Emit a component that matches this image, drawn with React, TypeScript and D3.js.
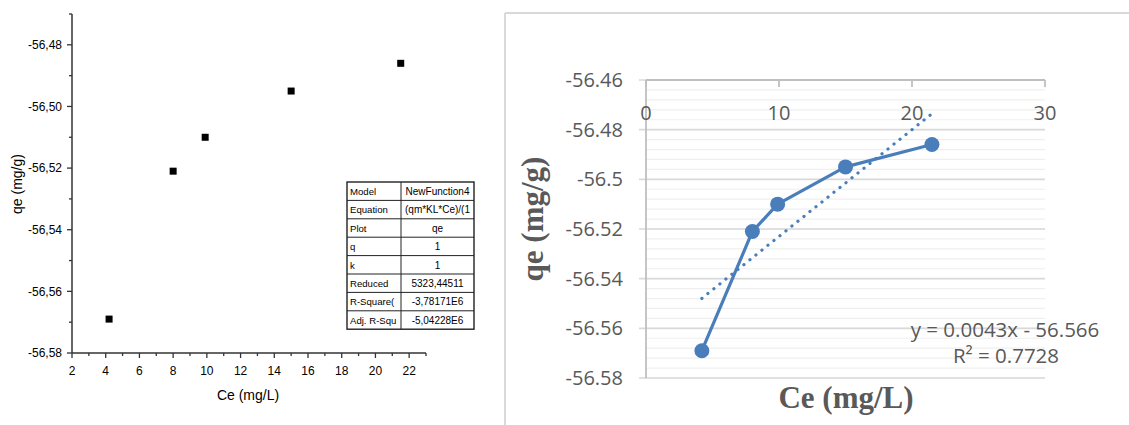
import React from "react";
import * as d3 from "d3";

const ce = [4.2, 8.0, 9.9, 15.0, 21.5];
const qe = [-56.569, -56.521, -56.51, -56.495, -56.486];

const leftXMajor = [2, 4, 6, 8, 10, 12, 14, 16, 18, 20, 22];
const leftXMinor = [3, 5, 7, 9, 11, 13, 15, 17, 19, 21, 23];
const leftYMajor = [-56.58, -56.56, -56.54, -56.52, -56.5, -56.48];
const leftYMinor = [-56.57, -56.55, -56.53, -56.51, -56.49, -56.47];

const rightXTicks = [0, 10, 20, 30];
const rightYMajor = [-56.58, -56.56, -56.54, -56.52, -56.5, -56.48, -56.46];
const rightYMinorStep = 0.004;

const trendSlope = 0.0043;
const trendIntercept = -56.566;
const trendLabel = "y = 0.0043x - 56.566";
const r2Label = "R² = 0.7728";

const tableKeys = ["Model", "Equation", "Plot", "q", "k", "Reduced", "R-Square(", "Adj. R-Squ"];
const tableVals = ["NewFunction4", "(qm*KL*Ce)/(1", "qe", "1", "1", "5323,44511", "-3,78171E6", "-5,04228E6"];

const BLUE = "#4A7EBB";
const GRAY = "#595959";

export default function App() {
  // Left (Origin-like) chart
  const lx = d3.scaleLinear().domain([2, 23]).range([72, 426]);
  const ly = d3.scaleLinear().domain([-56.58, -56.47]).range([353, 14]);
  const commaFmt = (v: number) => d3.format(".2f")(v).replace(".", ",").replace("−", "-");

  // Right (Excel-like) chart
  const rx = d3.scaleLinear().domain([0, 30]).range([646, 1045]);
  const ry = d3.scaleLinear().domain([-56.58, -56.46]).range([378, 80]);
  const minorY: number[] = [];
  for (let i = 0; i <= 30; i++) {
    minorY.push(-56.58 + i * rightYMinorStep);
  }
  const lineGen = d3
    .line<number>()
    .x((_, i) => rx(ce[i]))
    .y((d) => ry(d));
  const xMin = d3.min(ce) as number;
  const xMax = d3.max(ce) as number;

  const tX = 347, tY = 182, tW = 127, rowH = 18.4, colX = 401;
  const tH = rowH * tableKeys.length;

  return (
    <div style={{ position: "absolute", left: 0, top: 0 }}>
      <svg width={1129} height={425} style={{ display: "block", background: "#fff" }}>
        <defs>
          <clipPath id="tclip">
            <rect x={colX + 1} y={tY} width={tX + tW - colX - 2} height={tH} />
          </clipPath>
        </defs>
        {/* ===== Left chart ===== */}
        <g fontFamily="'Liberation Sans', Arial, sans-serif" fill="#000">
          <line x1={lx(2)} x2={lx(2)} y1={ly(-56.47)} y2={ly(-56.58)} stroke="#333" strokeWidth={1.5} />
          <line x1={lx(2)} x2={lx(23)} y1={ly(-56.58)} y2={ly(-56.58)} stroke="#333" strokeWidth={1.5} />
          {leftYMajor.map((v) => (
            <g key={"ly" + v}>
              <line x1={lx(2) - 5} x2={lx(2)} y1={ly(v)} y2={ly(v)} stroke="#333" strokeWidth={1.3} />
              <text x={62} y={ly(v) + 4.3} textAnchor="end" fontSize={12}>
                {commaFmt(v)}
              </text>
            </g>
          ))}
          {leftYMinor.map((v) => (
            <line key={"lym" + v} x1={lx(2) - 3} x2={lx(2)} y1={ly(v)} y2={ly(v)} stroke="#333" strokeWidth={1.3} />
          ))}
          {leftXMajor.map((v) => (
            <g key={"lx" + v}>
              <line x1={lx(v)} x2={lx(v)} y1={ly(-56.58)} y2={ly(-56.58) + 5} stroke="#333" strokeWidth={1.3} />
              <text x={lx(v)} y={375} textAnchor="middle" fontSize={12}>
                {v}
              </text>
            </g>
          ))}
          {leftXMinor.map((v) => (
            <line key={"lxm" + v} x1={lx(v)} x2={lx(v)} y1={ly(-56.58)} y2={ly(-56.58) + 3} stroke="#333" strokeWidth={1.3} />
          ))}
          <text x={248} y={400} textAnchor="middle" fontSize={14}>
            Ce (mg/L)
          </text>
          <text transform={`translate(22,184) rotate(-90)`} textAnchor="middle" fontSize={14}>
            qe (mg/g)
          </text>
          {ce.map((c, i) => (
            <rect key={"sq" + i} x={lx(c) - 3.5} y={ly(qe[i]) - 3.5} width={7} height={7} fill="#000" />
          ))}
          {/* table */}
          <rect x={tX} y={tY} width={tW} height={tH} fill="#fff" stroke="#222" strokeWidth={1.4} />
          <line x1={colX} x2={colX} y1={tY} y2={tY + tH} stroke="#222" strokeWidth={1} />
          {tableKeys.map((k, i) => (
            <g key={"t" + i}>
              {i > 0 && <line x1={tX} x2={tX + tW} y1={tY + i * rowH} y2={tY + i * rowH} stroke="#222" strokeWidth={1} />}
              <text x={tX + 3} y={tY + i * rowH + 13} fontSize={9.6}>
                {k}
              </text>
              <text
                x={(colX + tX + tW) / 2}
                y={tY + i * rowH + 13}
                fontSize={10}
                textAnchor="middle"
                clipPath="url(#tclip)"
              >
                {tableVals[i]}
              </text>
            </g>
          ))}
        </g>

        {/* ===== Right chart ===== */}
        <g fontFamily="'Open Sans', 'Noto Sans', sans-serif">
          <line x1={505} x2={1129} y1={13} y2={13} stroke="#d9d9d9" strokeWidth={2} />
          <line x1={505} x2={505} y1={13} y2={425} stroke="#d9d9d9" strokeWidth={2} />
          {minorY.map((v, i) => (
            <line key={"mg" + i} x1={rx(0)} x2={rx(30)} y1={ry(v)} y2={ry(v)} stroke="#efefef" strokeWidth={1.2} />
          ))}
          {rightYMajor.map((v) => (
            <g key={"ry" + v}>
              <line x1={rx(0) - 7} x2={rx(30)} y1={ry(v)} y2={ry(v)} stroke="#d9d9d9" strokeWidth={1.6} />
              <text x={623} y={ry(v) + 7} textAnchor="end" fontSize={20} fill={GRAY}>
                {d3.format("")(v).replace("−", "-")}
              </text>
            </g>
          ))}
          <line x1={rx(0)} x2={rx(0)} y1={ry(-56.46)} y2={ry(-56.58)} stroke="#bfbfbf" strokeWidth={1.8} />
          <line x1={rx(0)} x2={rx(30)} y1={ry(-56.46)} y2={ry(-56.46)} stroke="#bfbfbf" strokeWidth={2} />
          {rightXTicks.map((v) => (
            <g key={"rx" + v}>
              <line x1={rx(v)} x2={rx(v)} y1={ry(-56.46)} y2={ry(-56.46) + 7} stroke="#bfbfbf" strokeWidth={1.8} />
              <text x={rx(v)} y={120} textAnchor="middle" fontSize={20} fill={GRAY}>
                {v}
              </text>
            </g>
          ))}
          {/* trendline */}
          <line
            x1={rx(xMin)}
            x2={rx(xMax)}
            y1={ry(trendSlope * xMin + trendIntercept)}
            y2={ry(trendSlope * xMax + trendIntercept)}
            stroke={BLUE}
            strokeWidth={3.2}
            strokeDasharray="0.1 7.6"
            strokeLinecap="round"
          />
          {/* series */}
          <path d={lineGen(qe) || ""} fill="none" stroke={BLUE} strokeWidth={3.2} strokeLinejoin="round" />
          {ce.map((c, i) => (
            <circle key={"pt" + i} cx={rx(c)} cy={ry(qe[i])} r={7.5} fill={BLUE} />
          ))}
          <text x={1005} y={337} textAnchor="middle" fontSize={20.5} fill={GRAY}>
            {trendLabel}
          </text>
          <text x={1006} y={363} textAnchor="middle" fontSize={20.5} fill={GRAY}>
            {r2Label}
          </text>
          <text
            transform={`translate(543,219) rotate(-90)`}
            textAnchor="middle"
            fontSize={31}
            fontWeight="bold"
            fontFamily="'Liberation Serif', 'Times New Roman', serif"
            fill={GRAY}
          >
            qe (mg/g)
          </text>
          <text
            x={846}
            y={408}
            textAnchor="middle"
            fontSize={31}
            fontWeight="bold"
            fontFamily="'Liberation Serif', 'Times New Roman', serif"
            fill={GRAY}
          >
            Ce (mg/L)
          </text>
        </g>
      </svg>
    </div>
  );
}
